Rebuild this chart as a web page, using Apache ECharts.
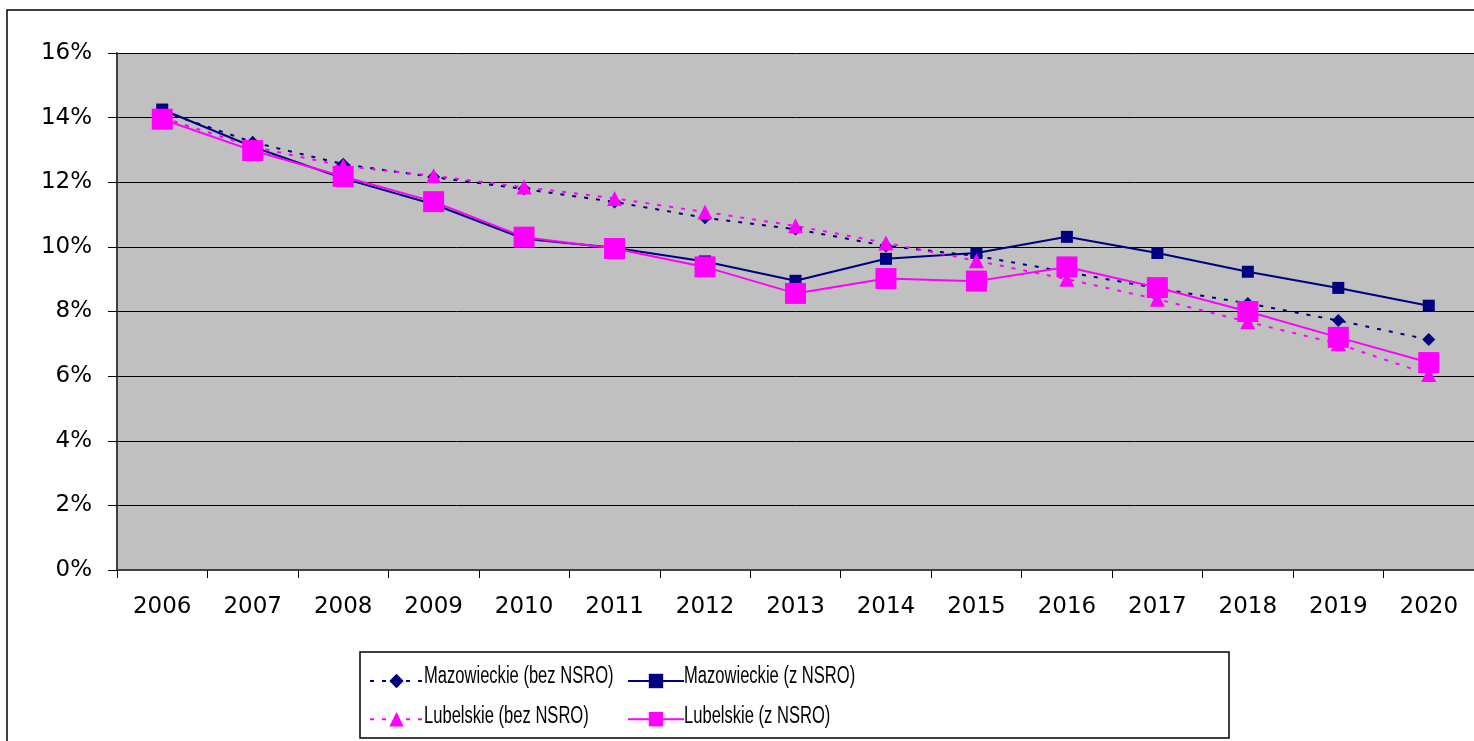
<!DOCTYPE html>
<html>
<head>
    <meta charset="UTF-8">
    <title>Mazowieckie / Lubelskie</title>
    <script src="https://cdn.jsdelivr.net/npm/echarts@6/dist/echarts.min.js"></script>
    <style>
        html, body { margin: 0; padding: 0; background: #fff; }
    </style>
</head>
<body>
    <div id="chart" style="width: 1474px; height: 741px;"></div>
    <script type="text/javascript">
        // data (in %)
        var years = ['2006', '2007', '2008', '2009', '2010', '2011', '2012', '2013',
                     '2014', '2015', '2016', '2017', '2018', '2019', '2020'];
        var names = ['Mazowieckie (bez NSRO)', 'Mazowieckie (z NSRO)', 'Lubelskie (bez NSRO)', 'Lubelskie (z NSRO)'];
        var mazBez = [14.2, 13.24, 12.56, 12.16, 11.79, 11.39, 10.9, 10.55, 10.03, 9.72, 9.22, 8.72, 8.25, 7.72, 7.13];
        var mazZ   = [14.25, 13.1, 12.12, 11.32, 10.25, 9.97, 9.55, 8.95, 9.63, 9.81, 10.31, 9.81, 9.23, 8.73, 8.18];
        var lubBez = [14.0, 13.1, 12.5, 12.2, 11.85, 11.5, 11.08, 10.65, 10.12, 9.57, 9.0, 8.38, 7.68, 7.0, 6.05];
        var lubZ   = [13.95, 12.98, 12.18, 11.4, 10.3, 9.95, 9.38, 8.56, 9.02, 8.94, 9.38, 8.74, 8.0, 7.2, 6.42];

        var navy = '#000080';
        var pink = '#FF00FF';
        var axisFont = '"DejaVu Sans", sans-serif';
        var legFont = '"Liberation Sans", Arial, sans-serif';

        var chart = echarts.init(document.getElementById('chart'));

        // legend text is condensed in the original, so draw it squeezed next to the legend icons
        function legendText(txt, x, y) {
            return {
                type: 'text',
                x: x,
                y: y,
                scaleX: 0.72,
                silent: true,
                z: 10,
                style: {
                    text: txt,
                    fontFamily: legFont,
                    fontSize: 23,
                    fill: '#000',
                    verticalAlign: 'middle'
                }
            };
        }

        var option = {
            animation: false,
            backgroundColor: '#fff',
            graphic: [
                {
                    type: 'rect',
                    shape: { x: 7, y: 10, width: 1500, height: 800 },
                    style: { fill: 'none', stroke: '#000', lineWidth: 1.5 },
                    silent: true
                },
                {
                    type: 'rect',
                    shape: { x: 360, y: 652, width: 869, height: 86 },
                    style: { fill: '#fff', stroke: '#000', lineWidth: 1.5 },
                    silent: true,
                    z: -1
                },
                legendText(names[0], 424, 677),
                legendText(names[1], 684, 677),
                legendText(names[2], 424, 717),
                legendText(names[3], 684, 717)
            ],
            grid: {
                left: 117,
                top: 53,
                right: 0,
                bottom: 171,
                show: true,
                backgroundColor: '#C0C0C0',
                borderWidth: 0
            },
            legend: [
                {
                    orient: 'vertical',
                    left: 364,
                    top: 667,
                    itemWidth: 53,
                    itemHeight: 18,
                    itemGap: 22,
                    formatter: function () { return ''; },
                    data: [names[0], names[2]]
                },
                {
                    orient: 'vertical',
                    left: 622,
                    top: 667,
                    itemWidth: 56,
                    itemHeight: 18,
                    itemGap: 22,
                    formatter: function () { return ''; },
                    data: [names[1], names[3]]
                }
            ],
            xAxis: {
                type: 'category',
                data: years,
                boundaryGap: true,
                axisLine: { lineStyle: { color: '#404040', width: 2 } },
                axisTick: { show: true, length: 8, lineStyle: { color: '#000', width: 1 } },
                axisLabel: { margin: 26, fontFamily: axisFont, fontSize: 23, color: '#000' }
            },
            yAxis: {
                type: 'value',
                min: 0,
                max: 16,
                interval: 2,
                axisLine: { show: true, lineStyle: { color: '#404040', width: 2 } },
                axisTick: { show: true, length: 9, lineStyle: { color: '#000', width: 1 } },
                axisLabel: { margin: 25, fontFamily: axisFont, fontSize: 23, color: '#000', formatter: '{value}%' },
                splitLine: { show: true, lineStyle: { color: '#000', width: 1 } }
            },
            series: [
                {
                    name: names[0],
                    type: 'line',
                    data: mazBez,
                    symbol: 'diamond',
                    symbolSize: 13,
                    color: navy,
                    lineStyle: { color: navy, width: 2, type: [4, 8] },
                    itemStyle: { color: navy }
                },
                {
                    name: names[1],
                    type: 'line',
                    data: mazZ,
                    symbol: 'rect',
                    symbolSize: 12,
                    color: navy,
                    lineStyle: { color: navy, width: 2 },
                    itemStyle: { color: navy }
                },
                {
                    name: names[2],
                    type: 'line',
                    data: lubBez,
                    symbol: 'triangle',
                    symbolSize: 15,
                    color: pink,
                    lineStyle: { color: pink, width: 2, type: [4, 8] },
                    itemStyle: { color: pink }
                },
                {
                    name: names[3],
                    type: 'line',
                    data: lubZ,
                    symbol: 'rect',
                    symbolSize: 21,
                    color: pink,
                    lineStyle: { color: pink, width: 2 },
                    itemStyle: { color: pink }
                }
            ]
        };

        chart.setOption(option);
    </script>
</body>
</html>
